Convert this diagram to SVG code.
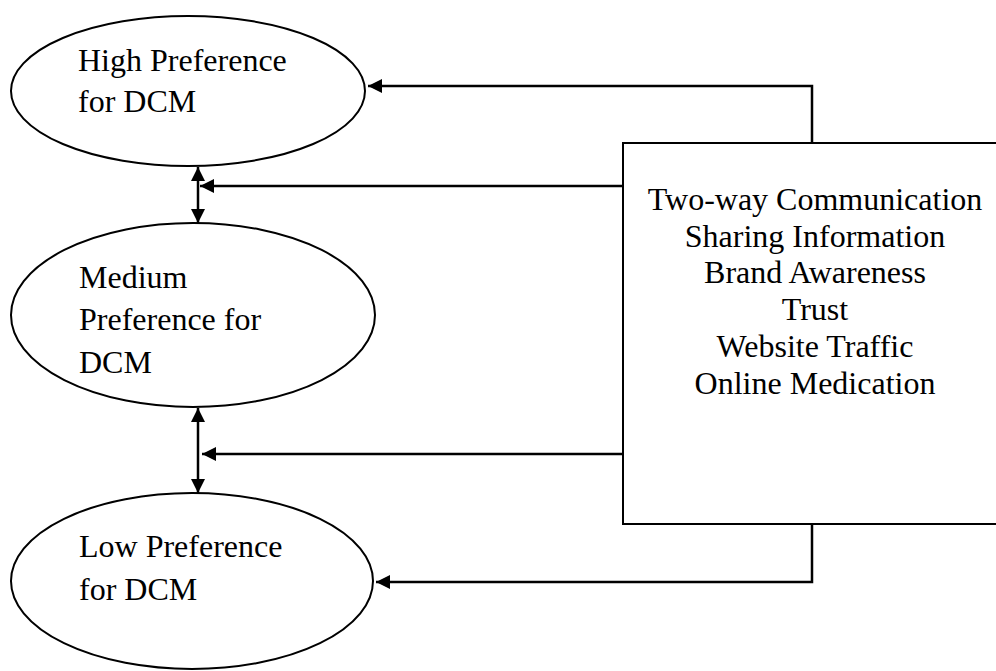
<svg xmlns="http://www.w3.org/2000/svg" width="996" height="671" viewBox="0 0 996 671">
<style>
.shape{fill:#fff;stroke:#000;stroke-width:2}
.line{fill:none;stroke:#000;stroke-width:2.5}
.t{font-family:"Liberation Serif","Times New Roman",serif;font-size:32px;fill:#000}
.c{text-anchor:middle}
</style>
<defs>
<marker id="ah" viewBox="0 0 10 10" refX="10" refY="5" markerWidth="14" markerHeight="14" markerUnits="userSpaceOnUse" orient="auto-start-reverse">
<path d="M0,0 L10,5 L0,10 Z" fill="#000"/>
</marker>
</defs>
<rect width="996" height="671" fill="#fff"/>
<g id="connectors">
<polyline class="line" points="812,143 812,86 368,86" marker-end="url(#ah)"/>
<line class="line" x1="623" y1="186" x2="200" y2="186" marker-end="url(#ah)"/>
<line class="line" x1="198" y1="167" x2="198" y2="223" marker-start="url(#ah)" marker-end="url(#ah)"/>
<line class="line" x1="623" y1="454" x2="202" y2="454" marker-end="url(#ah)"/>
<line class="line" x1="198" y1="408" x2="198" y2="493" marker-start="url(#ah)" marker-end="url(#ah)"/>
<polyline class="line" points="812,524 812,582 376,582" marker-end="url(#ah)"/>
</g>
<g id="high">
<ellipse class="shape" cx="188" cy="91" rx="177" ry="75"/>
<text class="t" x="78" y="71">High Preference</text>
<text class="t" x="78" y="112">for DCM</text>
</g>
<g id="medium">
<ellipse class="shape" cx="193" cy="315" rx="182" ry="92"/>
<text class="t" x="79" y="288">Medium</text>
<text class="t" x="79" y="330">Preference for</text>
<text class="t" x="79" y="373">DCM</text>
</g>
<g id="low">
<ellipse class="shape" cx="192" cy="581" rx="181" ry="88"/>
<text class="t" x="79" y="557">Low Preference</text>
<text class="t" x="79" y="600">for DCM</text>
</g>
<g id="factors">
<rect class="shape" x="623" y="143" width="390" height="381"/>
<text class="t c" x="815" y="210">Two-way Communication</text>
<text class="t c" x="815" y="247">Sharing Information</text>
<text class="t c" x="815" y="283">Brand Awareness</text>
<text class="t c" x="815" y="320">Trust</text>
<text class="t c" x="815" y="357">Website Traffic</text>
<text class="t c" x="815" y="394">Online Medication</text>
</g>
</svg>
